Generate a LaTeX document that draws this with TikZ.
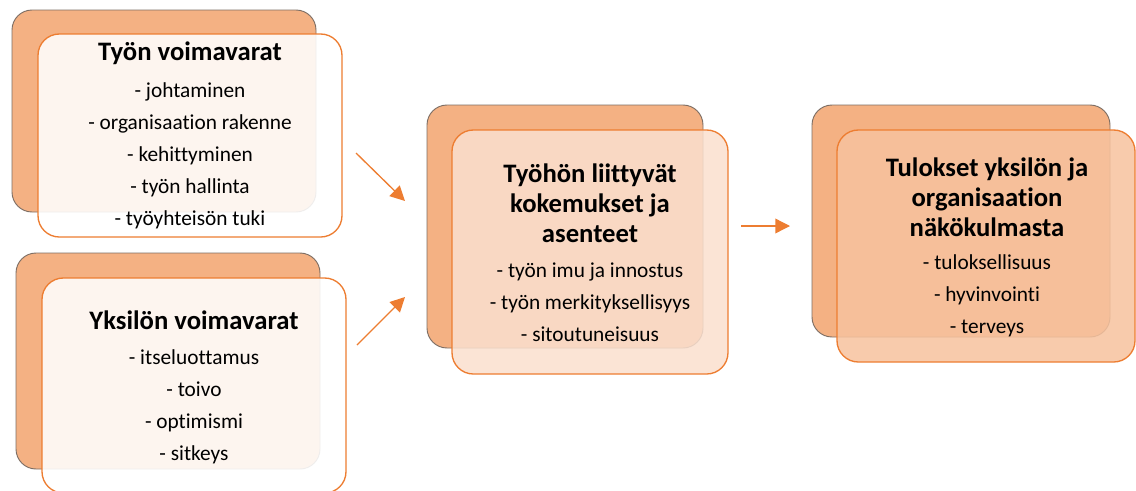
\documentclass[tikz,border=0pt]{standalone}
\usepackage{fontspec}
\setmainfont{Carlito}[Ligatures=NoCommon,RawFeature={-liga;-dlig;-calt}]
\usetikzlibrary{arrows.meta}
\definecolor{backfill}{RGB}{244,177,131}
\definecolor{backline}{RGB}{125,110,100}
\definecolor{accent}{RGB}{237,125,49}
\definecolor{midfill}{RGB}{250,223,206}
\definecolor{endfill}{RGB}{247,194,158}
\tikzset{
  backbox/.style={fill=backfill, draw=backline, line width=0.7pt, rounded corners=15pt},
  frontbox/.style={draw=accent, line width=1pt, rounded corners=16pt, fill opacity=0.86},
  heading/.style={font=\bfseries\fontsize{20}{22.5}\selectfont, align=center, inner sep=0pt},
  items/.style={font=\fontsize{16}{24}\selectfont, align=center, inner sep=0pt},
  flow/.style={draw=accent, line width=1pt, -{Triangle[length=11pt,width=11pt]}}
}
\begin{document}
\begin{tikzpicture}[x=0.75pt,y=-0.75pt]
        \clip (0,0) rectangle (1136,490);
        \useasboundingbox (0,0) rectangle (1136,490);
        % resources of work
        \draw[backbox] (12,10) rectangle (316,212);
        \fill[white, rounded corners=16pt, fill opacity=0.88] (38,34) rectangle (342,237);
        \draw[frontbox] (38,34) rectangle (342,237);
        \node[heading] (work) at (190,53) {Työn voimavarat};
        \node[items] (workitems) at (190,156) {- johtaminen\\- organisaation rakenne\\- kehittyminen\\- työn hallinta\\- työyhteisön tuki};
        % personal resources
        \draw[backbox] (16,253) rectangle (320,469);
        \fill[white, rounded corners=16pt, fill opacity=0.88] (42,278) rectangle (346,493);
        \draw[frontbox] (42,278) rectangle (346,493);
        \node[heading] (self) at (194,320) {Yksilön voimavarat};
        \node[items] (selfitems) at (194,407) {- itseluottamus\\- toivo\\- optimismi\\- sitkeys};
        % experiences and attitudes
        \draw[backbox] (427,105) rectangle (703,348);
        \fill[midfill, rounded corners=16pt, fill opacity=0.86] (452,130) rectangle (728,374);
        \draw[frontbox] (452,130) rectangle (728,374);
        \node[heading] (exp) at (590,203) {Työhön liittyvät\\kokemukset ja\\asenteet};
        \node[items] (expitems) at (590,302) {- työn imu ja innostus\\- työn merkityksellisyys\\- sitoutuneisuus};
        % outcomes
        \draw[backbox] (812,105) rectangle (1110,337);
        \fill[endfill, rounded corners=16pt, fill opacity=0.86] (837,130) rectangle (1135,362);
        \draw[frontbox] (837,130) rectangle (1135,362);
        \node[heading] (out) at (987,197) {Tulokset yksilön ja\\organisaation\\näkökulmasta};
        \node[items] (outitems) at (987,296) {- tuloksellisuus\\- hyvinvointi\\- terveys};
        % arrows between the boxes
        \coordinate (a1) at (356,153);
        \coordinate (a2) at (405,201);
        \coordinate (b1) at (357,345);
        \coordinate (b2) at (405,297);
        \coordinate (c1) at (741,226);
        \coordinate (c2) at (790,226);
        \draw[flow] (a1) -- (a2);
        \draw[flow] (b1) -- (b2);
        \draw[flow] (c1) -- (c2);
\end{tikzpicture}
\end{document}
